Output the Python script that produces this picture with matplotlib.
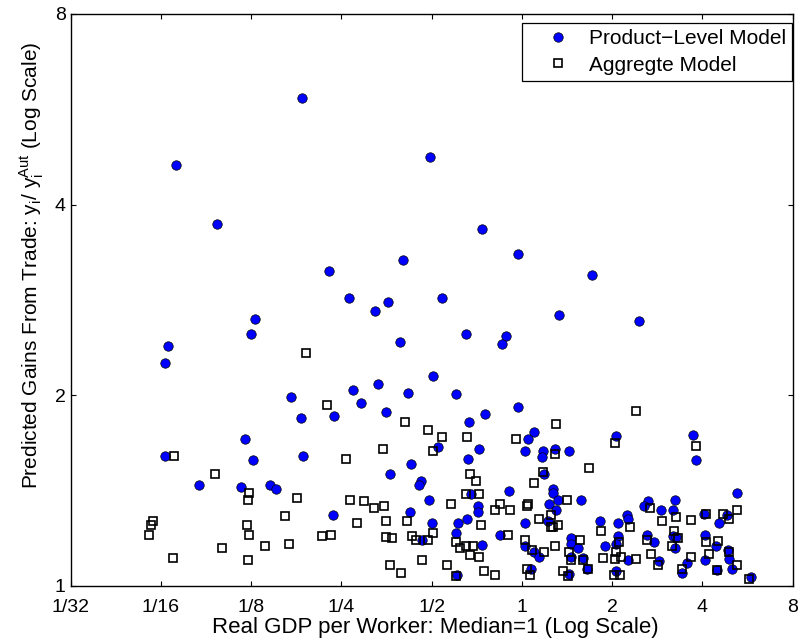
import matplotlib
matplotlib.use("Agg")
import matplotlib.pyplot as plt
import numpy as np

plt.rcParams['font.family'] = ['Liberation Sans', 'DejaVu Sans']

# values, stored as log2 of the plotted quantity
# product-level model (filled blue circles)
product_log2_gdp = [
    -2.44, -3.83, -1.02, -3.38, -1.32, -2.14, -1.92, -1.48, -1.63, -0.89,
    -2.96, -3.00, -1.35, -0.44, -0.04, 0.78, 0.41, 1.30, -0.62, -0.17,
    -0.22, -3.92, -3.96, -2.56, -2.45, -2.08, -3.07, -3.96, -2.98, -2.42,
    -3.58, -3.11, -2.79, -2.72, -2.09, -0.98, -1.59, -1.87, -1.78, -1.26,
    -0.73, -0.04, -1.51, -0.41, -0.59, 0.14, 0.07, -0.93, -0.48, 0.04,
    0.23, 0.37, 0.22, -0.60, -1.23, -1.46, 0.25, -1.12, -1.14, -0.14,
    0.34, 0.35, -0.56, -1.03, -0.49, -0.49, 0.30, -1.24, -0.61, -0.71,
    -1.00, 0.04, -0.73, -0.24, -1.11, -0.44, 0.03, 0.14, 0.19, 0.29,
    -0.72, 0.10, 1.04, 1.90, 0.52, 1.93, 0.40, 0.38, 0.66, 2.39,
    1.40, 1.35, 1.54, 1.70, 1.68, 1.17, 1.18, 0.87, 1.07, 2.02,
    2.27, 2.19, 2.03, 1.39, 1.46, 1.67, 1.71, 1.70, 1.07, 1.04,
    0.92, 0.54, 0.54, 0.62, 0.55, 0.68, 0.72, 0.52, 1.18, 1.04,
    1.52, 1.83, 1.77, 2.15, 2.03, 2.29, 2.30, 2.33, 2.16, 2.54,
]
product_log2_gain = [
    2.56, 2.21, 2.25, 1.90, 1.71, 1.65, 1.51, 1.49, 1.44, 1.51,
    1.40, 1.32, 1.28, 1.87, 1.74, 1.63, 1.42, 1.39, 1.32, 1.31,
    1.27, 1.26, 1.17, 0.99, 0.88, 0.89, 0.77, 0.68, 0.66, 0.68,
    0.53, 0.52, 0.53, 0.51, 0.375, 1.10, 1.06, 1.03, 0.96, 1.01,
    1.005, 0.94, 0.91, 0.90, 0.86, 0.81, 0.77, 0.73, 0.72, 0.71,
    0.71, 0.72, 0.675, 0.665, 0.64, 0.59, 0.59, 0.55, 0.53, 0.50,
    0.51, 0.49, 0.48, 0.45, 0.42, 0.39, 0.43, 0.39, 0.35, 0.33,
    0.33, 0.33, 0.28, 0.27, 0.24, 0.215, 0.21, 0.18, 0.15, 0.34,
    0.06, 0.09, 0.785, 0.79, 0.71, 0.66, 0.45, 0.40, 0.45, 0.49,
    0.445, 0.42, 0.40, 0.45, 0.40, 0.37, 0.35, 0.34, 0.33, 0.38,
    0.37, 0.33, 0.27, 0.27, 0.23, 0.26, 0.255, 0.20, 0.26, 0.22,
    0.21, 0.25, 0.22, 0.20, 0.15, 0.145, 0.09, 0.064, 0.136, 0.077,
    0.13, 0.12, 0.066, 0.21, 0.136, 0.19, 0.14, 0.09, 0.084, 0.047,
]

# aggregate model (open squares)
aggregate_log2_gdp = [
    -2.39, -2.16, -3.86, -3.40, -3.02, -3.03, -2.49, -4.09, -4.11, -4.13,
    -2.63, -3.05, -3.02, -2.22, -2.11, -2.58, -2.85, -3.32, -3.87, -3.03,
    -1.30, -1.04, -0.89, -0.61, -0.99, -1.54, -1.95, -0.07, 0.38, 0.37,
    -0.57, -0.51, 0.13, 0.24, -0.62, -0.47, -0.79, -0.24, -0.30, -0.13,
    0.06, 0.07, -1.90, -1.75, -1.64, -1.53, -1.83, -1.51, -1.27, -1.51,
    -1.44, -1.22, -1.17, -1.04, -0.98, -0.45, -0.155, -0.73, -0.69, -0.62,
    -0.54, -0.57, -0.47, 0.03, 0.11, 0.25, 0.37, 0.19, 0.32, 0.32,
    -1.46, -1.34, -1.11, -0.83, -0.73, -0.42, -0.30, 0.06, 0.09, 1.27,
    1.03, 1.93, 0.75, 0.50, 1.42, 1.55, 1.71, 1.87, 2.04, 2.23,
    2.30, 2.39, 0.34, 0.40, 0.88, 1.20, 1.69, 1.73, 0.65, 0.52,
    1.08, 1.39, 1.66, 2.04, 2.17, 1.04, 1.10, 1.03, 1.43, 2.08,
    2.30, 0.90, 1.26, 1.87, 2.38, 0.68, 0.55, 0.46, 0.51, 0.73,
    1.02, 1.09, 1.51, 1.78, 2.16, 2.52,
]
aggregate_log2_gain = [
    1.22, 0.95, 0.68, 0.59, 0.49, 0.45, 0.46, 0.34, 0.32, 0.27,
    0.365, 0.32, 0.27, 0.26, 0.27, 0.22, 0.21, 0.20, 0.147, 0.136,
    0.86, 0.82, 0.78, 0.78, 0.71, 0.72, 0.665, 0.77, 0.85, 0.69,
    0.585, 0.55, 0.54, 0.60, 0.48, 0.485, 0.43, 0.43, 0.40, 0.40,
    0.42, 0.43, 0.45, 0.445, 0.41, 0.42, 0.33, 0.34, 0.34, 0.257,
    0.25, 0.26, 0.24, 0.24, 0.28, 0.32, 0.27, 0.23, 0.20, 0.21,
    0.21, 0.16, 0.15, 0.24, 0.19, 0.18, 0.21, 0.35, 0.37, 0.31,
    0.11, 0.066, 0.136, 0.11, 0.05, 0.08, 0.06, 0.09, 0.06, 0.92,
    0.75, 0.735, 0.62, 0.45, 0.41, 0.34, 0.36, 0.345, 0.38, 0.38,
    0.35, 0.40, 0.31, 0.32, 0.29, 0.31, 0.29, 0.25, 0.24, 0.18,
    0.23, 0.24, 0.21, 0.23, 0.235, 0.18, 0.15, 0.14, 0.17, 0.17,
    0.18, 0.145, 0.14, 0.15, 0.11, 0.136, 0.136, 0.08, 0.05, 0.087,
    0.056, 0.06, 0.11, 0.087, 0.084, 0.035,
]

tick_values = [1/32, 1/16, 1/8, 1/4, 1/2, 1, 2, 4, 8]
tick_labels = ['1/32', '1/16', '1/8', '1/4', '1/2', '1', '2', '4', '8']
ytick_values = [1, 2, 4, 8]
ytick_labels = ['1', '2', '4', '8']

W, H = 800, 641
fig = plt.figure(figsize=(W / 100, H / 100), dpi=100)
left, right, top, bottom = 70.7, 792.5, 14, 586
ax = fig.add_axes([left / W, (H - bottom) / H, (right - left) / W, (bottom - top) / H])

ax.plot(2.0 ** np.array(product_log2_gdp), 2.0 ** np.array(product_log2_gain),
        linestyle='none', marker='o', markersize=6.8, markerfacecolor='#0000ff',
        markeredgecolor='black', markeredgewidth=0.5, label='Product\u2212Level Model')
ax.plot(2.0 ** np.array(aggregate_log2_gdp), 2.0 ** np.array(aggregate_log2_gain),
        linestyle='none', marker='s', markersize=5.6, markerfacecolor='none',
        markeredgecolor='black', markeredgewidth=1.2, label='Aggregte Model')

ax.set_xscale('log', base=2)
ax.set_yscale('log', base=2)
ax.set_xlim(1/32, 8)
ax.set_ylim(1, 8)
ax.set_xticks(tick_values)
ax.set_xticklabels(tick_labels)
ax.set_yticks(ytick_values)
ax.set_yticklabels(ytick_labels)
ax.minorticks_off()
ax.tick_params(axis='both', which='major', direction='in', length=3.6, width=0.8,
               top=True, right=True, labelsize=14)
ax.tick_params(axis='x', pad=9.5)
ax.tick_params(axis='y', pad=3.5)
for s in ax.spines.values():
    s.set_linewidth(1.0)

ax.set_xlabel('Real GDP per Worker: Median=1 (Log Scale)', fontsize=16)
ax.set_ylabel(r'Predicted Gains From Trade: y$_\mathregular{i}$/ y$_\mathregular{i}^\mathregular{Aut}$ (Log Scale)',
              fontsize=15)
ax.xaxis.set_label_coords(0.5046, -0.0545)
ax.yaxis.set_label_coords(-0.034, 0.561)

leg = ax.legend(loc='upper right', bbox_to_anchor=(1.0, 0.9848), borderaxespad=0,
                fontsize=15, fancybox=False, framealpha=1, edgecolor='black',
                borderpad=0.32, labelspacing=0.35, handlelength=2.84, handletextpad=0.05,
                numpoints=1)
leg.get_frame().set_linewidth(0.9)

fig.savefig('out.png', dpi=100)
